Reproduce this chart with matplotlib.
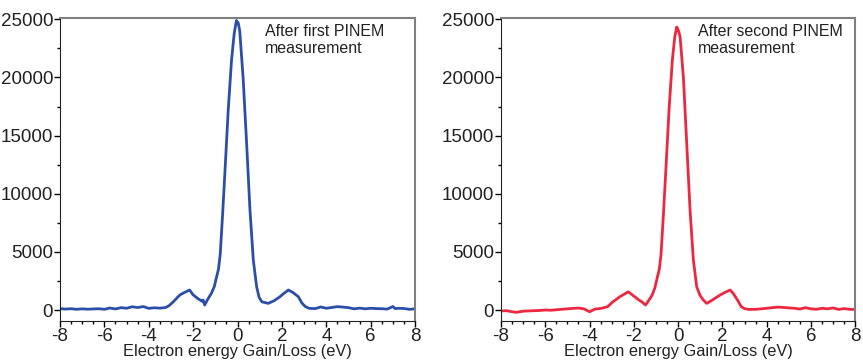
import numpy as np
import matplotlib
matplotlib.use("Agg")
import matplotlib.pyplot as plt
from matplotlib.ticker import MultipleLocator

plt.rcParams['font.family'] = ['Liberation Sans', 'DejaVu Sans']
plt.rcParams['axes.unicode_minus'] = False

# spectrum after first PINEM measurement (blue)
energy_first = [-8.0, -7.75, -7.5, -7.25, -7.0, -6.75, -6.5, -6.25, -6.0, -5.75,
                -5.5, -5.25, -5.0, -4.75, -4.5, -4.25, -4.0, -3.75, -3.5, -3.25,
                -3.1, -2.9, -2.6, -2.4, -2.16, -2.0, -1.8, -1.6, -1.55, -1.48,
                -1.35, -1.18, -1.05, -0.95, -0.86, -0.78, -0.68, -0.57, -0.42, -0.27,
                -0.15, -0.05, 0.03, 0.1, 0.25, 0.41, 0.56, 0.71, 0.86, 0.97,
                1.09, 1.38, 1.65, 1.91, 2.1, 2.29, 2.5, 2.74, 2.9, 3.05,
                3.23, 3.5, 3.75, 4.0, 4.25, 4.5, 4.75, 5.0, 5.25, 5.5,
                5.75, 6.0, 6.25, 6.5, 6.75, 7.0, 7.1, 7.25, 7.5, 7.75, 8.0]
counts_first = [120, 80, 110, 60, 100, 70, 90, 110, 60, 170,
                90, 200, 150, 280, 210, 300, 140, 190, 160, 210,
                350, 700, 1290, 1500, 1720, 1300, 1000, 750, 860, 430,
                900, 1430, 2000, 2800, 3500, 4800, 8000, 11800, 17200, 21500,
                23800, 24900, 24700, 24000, 20000, 14300, 8600, 4300, 2000, 1100,
                710, 570, 800, 1140, 1450, 1720, 1500, 1140, 600, 300,
                140, 120, 260, 150, 220, 290, 250, 200, 100, 160,
                100, 150, 120, 110, 80, 300, 120, 150, 130, 60, 100]

# spectrum after second PINEM measurement (red)
energy_second = [-8.0, -7.75, -7.5, -7.3, -7.0, -6.75, -6.5, -6.25, -6.0, -5.75,
                 -5.5, -5.25, -5.0, -4.75, -4.5, -4.25, -4.0, -3.75, -3.5, -3.18,
                 -2.95, -2.8, -2.63, -2.4, -2.25, -2.0, -1.8, -1.65, -1.47, -1.3,
                 -1.17, -1.05, -0.94, -0.85, -0.77, -0.67, -0.56, -0.41, -0.26, -0.15,
                 -0.06, 0.02, 0.09, 0.24, 0.39, 0.54, 0.69, 0.84, 0.98, 1.12,
                 1.29, 1.5, 1.7, 1.9, 2.1, 2.35, 2.5, 2.7, 2.85, 3.0,
                 3.2, 3.5, 3.75, 4.0, 4.25, 4.5, 4.75, 5.0, 5.25, 5.5,
                 5.75, 6.0, 6.25, 6.5, 6.75, 7.0, 7.25, 7.5, 7.75, 8.0]
counts_second = [-80, -60, -150, -200, -100, -80, -60, -40, 0, -20,
                 20, 60, 100, 140, 170, 100, -150, 80, 130, 290,
                 700, 900, 1140, 1400, 1570, 1200, 900, 720, 430, 900,
                 1290, 1900, 2800, 3500, 4800, 8000, 11800, 17200, 21500, 23500,
                 24340, 24000, 23500, 20000, 14300, 8600, 4300, 2000, 1300, 900,
                 570, 800, 1050, 1290, 1500, 1720, 1400, 800, 290, 120,
                 50, 60, 100, 150, 200, 250, 220, 180, 150, 80,
                 200, 100, 60, 150, 100, 180, 50, 120, 60, 50]

panel_text = ["After first PINEM\nmeasurement", "After second PINEM\nmeasurement"]
text_x = [1.25, 0.9]
xticks = [-8, -6, -4, -2, 0, 2, 4, 6, 8]
yticks = [0, 5000, 10000, 15000, 20000, 25000]

fig = plt.figure(figsize=(8.63, 3.64), dpi=100)
ax1 = fig.add_axes([0.0695, 0.118, 0.4115, 0.832])
ax2 = fig.add_axes([0.5805, 0.118, 0.4105, 0.832])

series = [(energy_first, counts_first, "#2b4fa8"), (energy_second, counts_second, "#ec2840")]

for ax, (x, y, c), txt, tx in zip([ax1, ax2], series, panel_text, text_x):
    ax.plot(x, y, color=c, lw=2)
    ax.set_xlim(-8, 8)
    ax.set_ylim(-950, 25100)
    ax.set_xticks(xticks)
    ax.set_yticks(yticks)
    ax.xaxis.set_minor_locator(MultipleLocator(0.5))
    ax.yaxis.set_minor_locator(MultipleLocator(2500))
    ax.tick_params(which='major', direction='out', length=4, width=1, labelsize=13.5,
                   pad=1, labelcolor='#222222')
    ax.tick_params(which='minor', direction='out', length=2, width=1)
    ax.spines['top'].set_color('#808080')
    ax.spines['right'].set_color('#808080')
    ax.spines['top'].set_linewidth(1.5)
    ax.spines['right'].set_linewidth(1.5)
    ax.spines['left'].set_color('#222222')
    ax.spines['bottom'].set_color('#222222')
    ax.set_xlabel("Electron energy Gain/Loss (eV)", fontsize=11.8, labelpad=-1,
                  color='#222222')
    ax.text(tx, 24600, txt, fontsize=11.5, va='top', ha='left', color='#222222',
            linespacing=1.15)

fig.savefig("out.png", dpi=100)
